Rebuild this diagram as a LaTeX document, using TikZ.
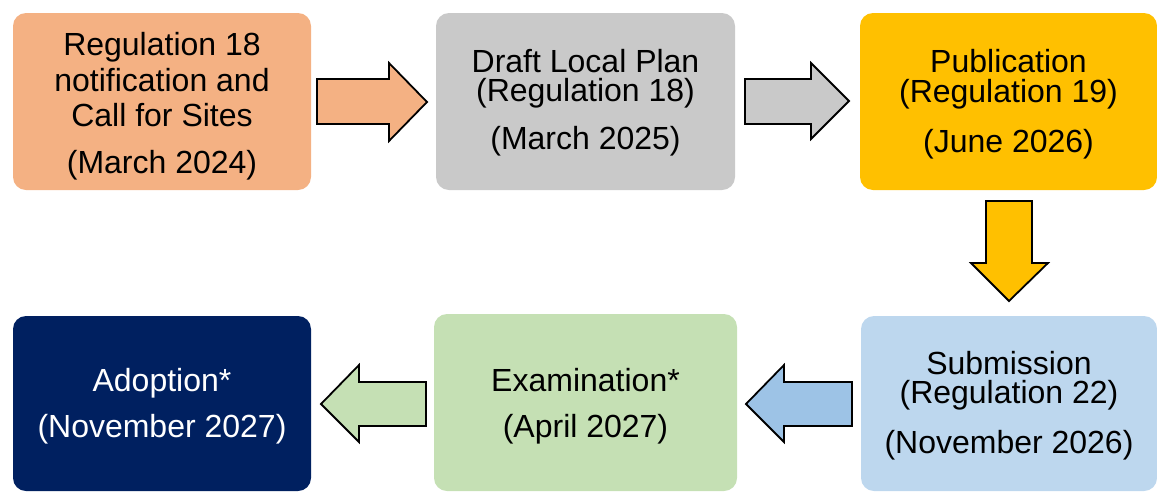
\documentclass[tikz,border=0pt]{standalone}
\usepackage{fontspec}
\setmainfont{Liberation Sans}
\definecolor{cOrange}{HTML}{F4B183}
\definecolor{cGray}{HTML}{C9C9C9}
\definecolor{cGold}{HTML}{FFC000}
\definecolor{cLBlue}{HTML}{BDD7EE}
\definecolor{cMBlue}{HTML}{9DC3E6}
\definecolor{cGreen}{HTML}{C5E0B4}
\definecolor{cNavy}{HTML}{002060}
\tikzset{
  box/.style={rounded corners=13pt, draw=none},
  txt/.style={anchor=base, inner sep=0pt, font=\fontsize{32}{36}\selectfont},
  blockarrow/.style={draw=black, line width=1.8pt, line join=miter},
}
\begin{document}
\begin{tikzpicture}[x=1pt, y=-1pt]
\useasboundingbox (0,0) rectangle (1157,491);
% boxes
\fill[box, cOrange] (13,13) rectangle (311,190);
\fill[box, cGray] (436,13) rectangle (735,190);
\fill[box, cGold] (860,13) rectangle (1157,190);
\fill[box, cLBlue] (861,316) rectangle (1157,491);
\fill[box, cGreen] (434,314) rectangle (737,491);
\fill[box, cNavy] (13,316) rectangle (311,491);
% texts box 1
\node[txt] (b1a) at (162,55) {Regulation 18};
\node[txt] (b1b) at (162,91) {notification and};
\node[txt] (b1c) at (162,126) {Call for Sites};
\node[txt] (b1d) at (162,173) {(March 2024)};
% box 2
\node[txt] (b2a) at (585.5,72) {Draft Local Plan};
\node[txt] (b2b) at (585.5,101) {(Regulation 18)};
\node[txt] (b2c) at (585.5,149) {(March 2025)};
% box 3
\node[txt] (b3a) at (1008.5,72) {Publication};
\node[txt] (b3b) at (1008.5,102) {(Regulation 19)};
\node[txt] (b3c) at (1008.5,152) {(June 2026)};
% box 4
\node[txt] (b4a) at (1009,374) {Submission};
\node[txt] (b4b) at (1009,403) {(Regulation 22)};
\node[txt] (b4c) at (1009,453) {(November 2026)};
% box 5
\node[txt] (b5a) at (585.5,391) {Examination*};
\node[txt] (b5b) at (585.5,437) {(April 2027)};
% box 6
\node[txt, text=white] (b6a) at (162,391) {Adoption*};
\node[txt, text=white] (b6b) at (162,437) {(November 2027)};
% arrows
\draw[blockarrow, fill=cOrange] (317,79) -- (389,79) -- (389,63) -- (427,102) -- (389,141) -- (389,124) -- (317,124) -- cycle;
\draw[blockarrow, fill=cGray] (745,79) -- (811,79) -- (811,63) -- (849,101) -- (811,139) -- (811,124) -- (745,124) -- cycle;
\draw[blockarrow, fill=cGold] (986,201) -- (1032,201) -- (1032,263) -- (1048,263) -- (1009,301) -- (971,263) -- (986,263) -- cycle;
\draw[blockarrow, fill=cMBlue] (852,382) -- (784,382) -- (784,365) -- (746,404) -- (784,442) -- (784,426) -- (852,426) -- cycle;
\draw[blockarrow, fill=cGreen] (426,382) -- (359,382) -- (359,365) -- (321,404) -- (359,442) -- (359,426) -- (426,426) -- cycle;
\end{tikzpicture}
\end{document}
